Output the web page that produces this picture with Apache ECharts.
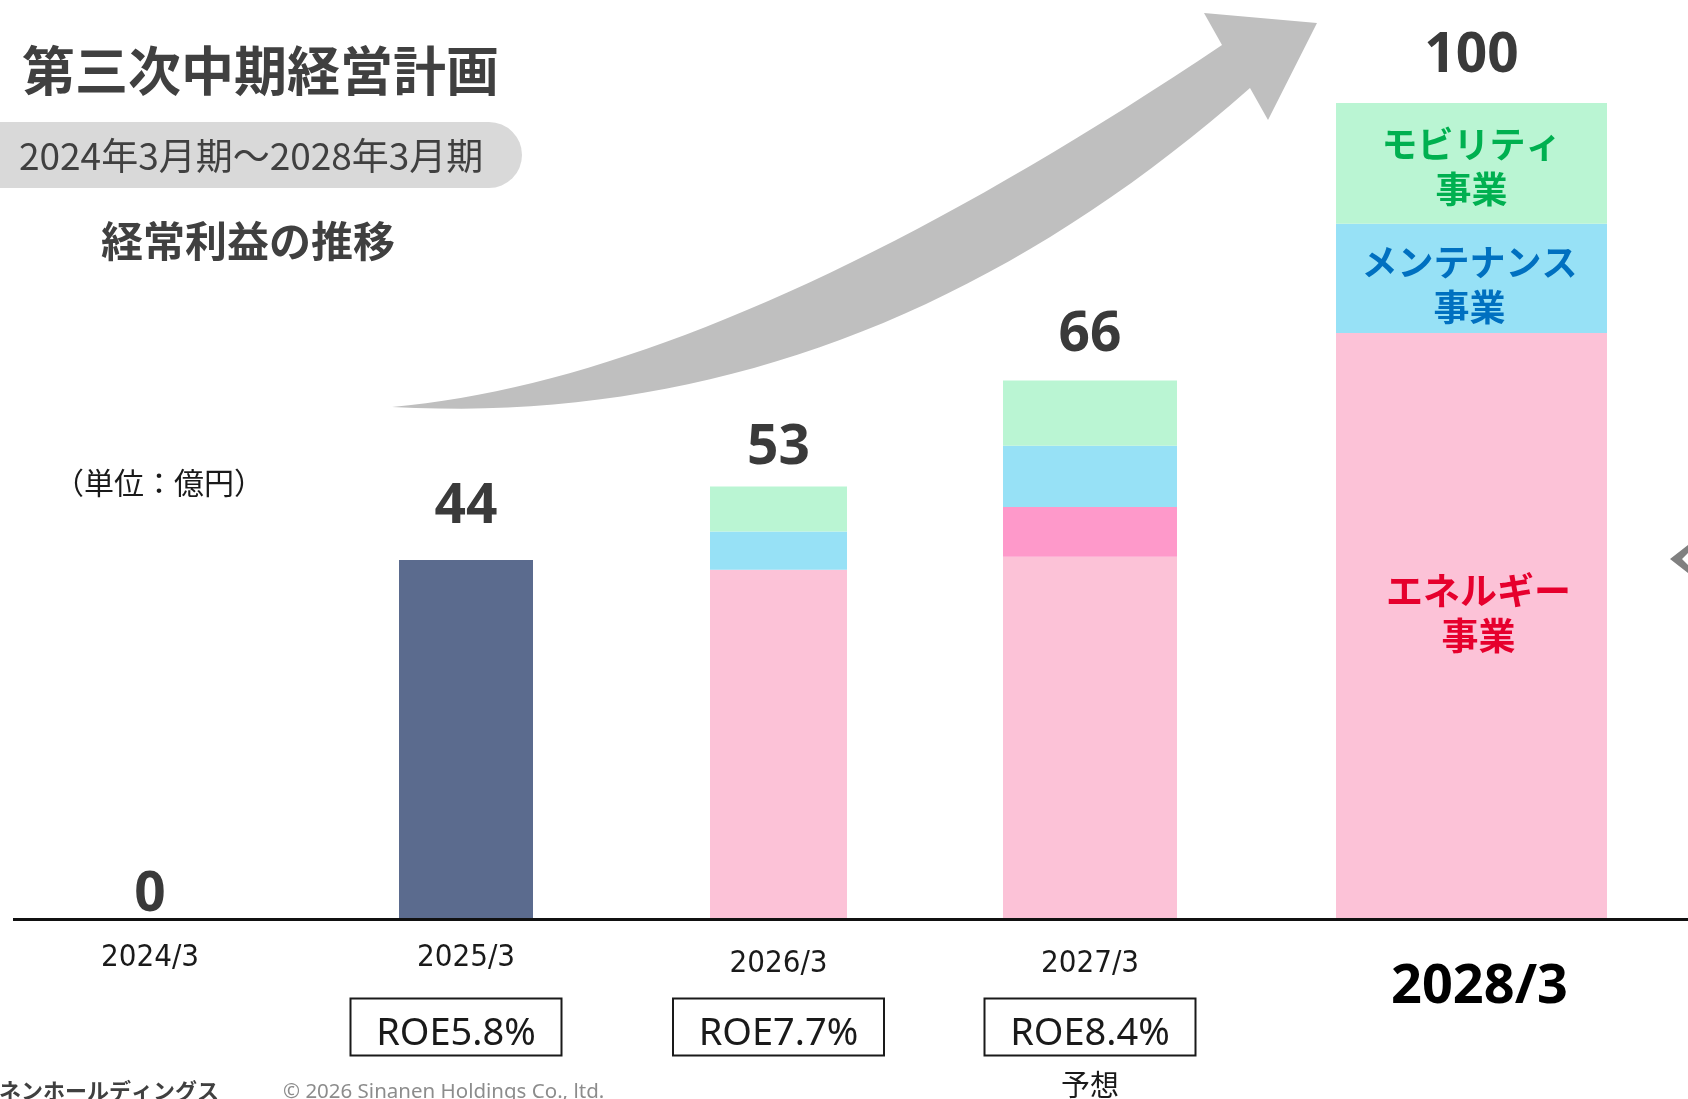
<!DOCTYPE html>
<html>
<head>
<meta charset="utf-8">
<title>経常利益の推移</title>
<script src="https://cdn.jsdelivr.net/npm/echarts@6/dist/echarts.min.js"></script>
<style>
  html, body { margin: 0; padding: 0; background: #fff; }
  #chart { width: 1688px; height: 1099px; }
</style>
</head>
<body>
<div id="chart"></div>
<script>
// 経常利益（億円）
const categories = ['2024/3', '2025/3', '2026/3', '2027/3', '2028/3'];
const actualData = [0, 44, null, null, null];
const energyData = [null, null, 42.8, 44.4, 71.8];
const energyPlusData = [null, null, null, 6.1, null];
const maintenanceData = [null, null, 4.7, 7.5, 13.4];
const mobilityData = [null, null, 5.5, 8.0, 14.8];
const totalData = [0, 44, 53, 66, 100];
const roeLabels = ['', 'ROE5.8%', 'ROE7.7%', 'ROE8.4%', ''];
const noteLabels = ['', '', '', '予想', ''];
const segmentNames = ['エネルギー\n事業', 'メンテナンス\n事業', 'モビリティ\n事業'];

// 棒ごとの配置（px）
const barBoxes = [
  { left: 83, width: 134, totalGap: -4, catLH: 78, boxShift: 0 },
  { left: 399, width: 134, totalGap: 25, catLH: 78, boxShift: 20 },
  { left: 710, width: 137, totalGap: 10, catLH: 90, boxShift: 0 },
  { left: 1003, width: 174, totalGap: 17, catLH: 90, boxShift: 0 },
  { left: 1336, width: 271, totalGap: 19, catLH: 138, boxShift: 0 }
];

const narrowFont = "'Liberation Sans Narrow', 'DejaVu Sans Condensed', 'Noto Sans', sans-serif";
const jpFont = "'Noto Sans CJK JP', 'Noto Sans', sans-serif";

let myChart = echarts.init(document.getElementById('chart'));

let grids = [];
let xAxes = [];
let yAxes = [];
let series = [];

barBoxes.forEach(function (b, i) {
  grids.push({ left: b.left, width: b.width, top: 103, height: 816, outerBoundsMode: 'none', containLabel: false });
  let boxLH = Math.max(2 * (108 - b.catLH), 30);
  let noteLH = 2 * (166 - b.catLH - boxLH);
  xAxes.push({
    type: 'category',
    gridIndex: i,
    data: [categories[i]],
    axisLine: { show: false },
    axisTick: { show: false },
    axisLabel: {
      margin: 0,
      interval: 0,
      formatter: function (v) {
        let s = i === 4 ? '{sp|}{big|' + v + '}' : '{cat|' + v + '}';
        if (roeLabels[i]) s += '\n{box|' + roeLabels[i] + '}' + (b.boxShift ? '{gap|}' : '');
        if (noteLabels[i]) s += '\n{note|' + noteLabels[i] + '}';
        return s;
      },
      rich: {
        cat: { fontFamily: narrowFont, fontSize: 31, color: '#1a1a1a', lineHeight: b.catLH },
        big: { fontFamily: "'Noto Sans', sans-serif", fontWeight: 'bold', fontSize: 54, color: '#000', lineHeight: b.catLH },
        sp: { width: 16 },
        gap: { width: b.boxShift },
        box: {
          fontFamily: "'Noto Sans', sans-serif", fontSize: 38, color: '#1a1a1a',
          width: 211, height: 43, padding: [14, 0, 0, 0], lineHeight: boxLH, align: 'center',
          borderColor: '#1a1a1a', borderWidth: 2
        },
        note: { fontFamily: jpFont, fontSize: 29, color: '#1a1a1a', lineHeight: noteLH }
      }
    }
  });
  yAxes.push({ type: 'value', gridIndex: i, min: 0, max: 100, show: false });

  let base = { type: 'bar', stack: 'total' + i, xAxisIndex: i, yAxisIndex: i, barWidth: '100%', silent: true };
  let segLabel = function (text, color, size, offset) {
    return {
      show: i === 4,
      position: 'inside',
      formatter: text,
      color: color,
      fontFamily: jpFont,
      fontWeight: 'bold',
      fontSize: size,
      lineHeight: 45,
      offset: offset
    };
  };
  series.push(Object.assign({}, base, { name: '実績', data: [actualData[i]], itemStyle: { color: '#5b6b8e' } }));
  series.push(Object.assign({}, base, {
    name: 'エネルギー事業', data: [energyData[i]], itemStyle: { color: '#fcc2d7' },
    label: segLabel(segmentNames[0], '#e6002d', 37, [7, -13])
  }));
  series.push(Object.assign({}, base, { name: 'エネルギー事業2', data: [energyPlusData[i]], itemStyle: { color: '#fe99ca' } }));
  series.push(Object.assign({}, base, {
    name: 'メンテナンス事業', data: [maintenanceData[i]], itemStyle: { color: '#97e1f6' },
    label: segLabel(segmentNames[1], '#0070c0', 36, [-2, 6])
  }));
  series.push(Object.assign({}, base, {
    name: 'モビリティ事業', data: [mobilityData[i]], itemStyle: { color: '#baf5d3' },
    label: segLabel(segmentNames[2], '#00b050', 36, [0, 3])
  }));
  // 合計値ラベル
  series.push({
    type: 'scatter',
    xAxisIndex: i,
    yAxisIndex: i,
    data: [totalData[i]],
    symbolSize: 1,
    silent: true,
    itemStyle: { color: 'rgba(0,0,0,0)', opacity: 1 },
    label: {
      show: true,
      position: 'top',
      distance: b.totalGap,
      color: '#3a3a3a',
      opacity: 1,
      fontFamily: "'Noto Sans', sans-serif",
      fontWeight: 'bold',
      fontSize: 55
    }
  });
});

// 矢印（装飾）
function quad(p0, c, p2, n) {
  let pts = [];
  for (let k = 0; k <= n; k++) {
    let t = k / n;
    let a = (1 - t) * (1 - t), m = 2 * (1 - t) * t, z = t * t;
    pts.push([a * p0[0] + m * c[0] + z * p2[0], a * p0[1] + m * c[1] + z * p2[1]]);
  }
  return pts;
}
let arrowPts = quad([392, 407], [727, 377], [1222, 45], 40)
  .concat([[1204, 13], [1317, 23], [1268, 120]])
  .concat(quad([1250, 88], [860, 432], [392, 407], 40));

function txt(text, x, y, size, weight, family, fill, align, vAlign) {
  return {
    type: 'text',
    silent: true,
    style: {
      text: text, x: x, y: y, fill: fill,
      fontSize: size, fontWeight: weight, fontFamily: family,
      align: align, verticalAlign: vAlign
    }
  };
}

let option = {
  animation: false,
  backgroundColor: '#fff',
  grid: grids,
  xAxis: xAxes,
  yAxis: yAxes,
  series: series,
  graphic: [
    { type: 'polygon', z: 0, shape: { points: arrowPts }, style: { fill: '#bfbfbf' }, silent: true },
    txt('第三次中期経営計画', 22, 71, 53, 'bold', jpFont, '#404040', 'left', 'middle'),
    { type: 'rect', shape: { x: -40, y: 122, width: 562, height: 66, r: 33 }, style: { fill: '#d9d9d9' } },
    txt('2024年3月期～2028年3月期', 19, 156, 37, 'normal', jpFont, '#404040', 'left', 'middle'),
    txt('経常利益の推移', 101, 241, 42, 'bold', jpFont, '#404040', 'left', 'middle'),
    txt('（単位：億円）', 54, 483, 30, 'normal', jpFont, '#1a1a1a', 'left', 'middle'),
    {
      type: 'polygon', shape: { points: [[1670, 559], [1688, 545], [1688, 553], [1682, 559], [1688, 565], [1688, 573]] },
      style: { fill: '#808080' }
    },
    { type: 'line', z: 100, shape: { x1: 13, y1: 919.5, x2: 1688, y2: 919.5 }, style: { stroke: '#111', lineWidth: 3 } },
    txt('シナネンホールディングス', 219, 1091, 22, 'bold', jpFont, '#404040', 'right', 'middle'),
    txt('© 2026 Sinanen Holdings Co., ltd.', 283, 1103, 20.5, 'normal', "'Noto Sans', sans-serif", '#8c8c8c', 'left', 'bottom')
  ]
};
myChart.setOption(option, true);
window.addEventListener('resize', () => {
  myChart.resize();
});
</script>
</body>
</html>
